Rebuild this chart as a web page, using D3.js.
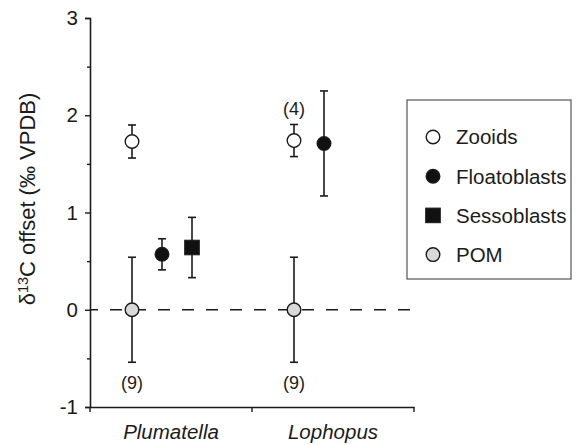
<!DOCTYPE html>
<html>
<head>
<meta charset="utf-8">
<script src="https://cdn.jsdelivr.net/npm/d3@7"></script>
<style>
  html, body { margin: 0; padding: 0; background: #fff; }
  svg { display: block; font-family: "Liberation Sans", Arial, sans-serif; }
</style>
</head>
<body>
<svg id="chart" width="576" height="445"></svg>
<script>
// Genus groups on the x axis
const categories = ["Plumatella", "Lophopus"];
// Sample types (legend order)
const seriesNames = ["Zooids", "Floatoblasts", "Sessoblasts", "POM"];

// Mean δ13C offsets and error (± SD) per genus, null where not measured
const zooidsMean = [1.73, 1.74];
const zooidsErr = [0.17, 0.165];
const floatoblastsMean = [0.57, 1.71];
const floatoblastsErr = [0.16, 0.54];
const sessoblastsMean = [0.64, null];
const sessoblastsErr = [0.31, null];
const pomMean = [0.0, 0.0];
const pomErr = [0.54, 0.54];

// Sample-size annotations
const zooidsN = [null, "(4)"];
const pomN = ["(9)", "(9)"];

// Axis ticks
const yMajorTicks = [-1, 0, 1, 2, 3];
const yMinorTicks = [-0.5, 0.5, 1.5, 2.5];

const ink = "#1b1b1b";
const fontFamily = "Liberation Sans, Arial, sans-serif";
const styles = {
  Zooids:       { shape: "circle", fill: "#ffffff", slot: 0 },
  Floatoblasts: { shape: "circle", fill: "#111111", slot: 1 },
  Sessoblasts:  { shape: "square", fill: "#111111", slot: 2 },
  POM:          { shape: "circle", fill: "#d9d9d9", slot: 0 }
};

const svg = d3.select("#chart");

const y = d3.scaleLinear().domain([-1, 3]).range([407, 18]);
const x = d3.scaleBand().domain(categories).range([90, 414]).padding(0);
const slot = d3.scalePoint().domain([0, 1, 2]).range([42, 102]);

// Build point records from the arrays
const rows = [];
const addSeries = (name, means, errs) => {
  categories.forEach((c, i) => {
    if (means[i] == null) return;
    rows.push({ series: name, cat: c, mean: means[i], err: errs[i] });
  });
};
addSeries("POM", pomMean, pomErr);
addSeries("Zooids", zooidsMean, zooidsErr);
addSeries("Floatoblasts", floatoblastsMean, floatoblastsErr);
addSeries("Sessoblasts", sessoblastsMean, sessoblastsErr);

const px = d => x(d.cat) + slot(styles[d.series].slot);

// Zero reference line
svg.append("line")
  .attr("x1", x.range()[0]).attr("x2", 410)
  .attr("y1", y(0)).attr("y2", y(0))
  .attr("stroke", ink).attr("stroke-width", 1.6)
  .attr("stroke-dasharray", "12,12").attr("stroke-dashoffset", 4);

// Y axis (major + minor ticks)
const yAxisG = svg.append("g").attr("transform", `translate(${x.range()[0]},0)`)
  .call(d3.axisLeft(y).tickValues(yMajorTicks).tickSize(5).tickPadding(7).tickFormat(d => String(d)));
svg.append("g").attr("transform", `translate(${x.range()[0]},0)`)
  .call(d3.axisLeft(y).tickValues(yMinorTicks).tickSize(3).tickFormat(""))
  .call(g => g.select(".domain").remove());

// X axis with group labels and boundary ticks
const xAxisG = svg.append("g").attr("transform", `translate(0,${y(-1)})`)
  .call(d3.axisBottom(x).tickSize(0).tickPadding(17));
const bounds = [x.range()[0], ...categories.map(c => x(c) + x.bandwidth())];
xAxisG.selectAll("line.bound").data(bounds).join("line")
  .attr("class", "bound")
  .attr("x1", d => d).attr("x2", d => d).attr("y1", 0).attr("y2", 5);

svg.selectAll(".domain").attr("stroke", ink).attr("stroke-width", 1.6);
svg.selectAll(".tick line, line.bound").attr("stroke", ink).attr("stroke-width", 1.4);
yAxisG.selectAll("text").attr("font-size", 20.5).attr("fill", ink).attr("font-family", fontFamily);
xAxisG.selectAll("text").attr("font-size", 20.5).attr("fill", ink).attr("font-style", "italic")
  .attr("font-family", fontFamily);

// Y axis title
const title = svg.append("text")
  .attr("transform", "translate(35,199) rotate(-90)")
  .attr("text-anchor", "middle")
  .attr("font-size", 22).attr("fill", ink);
title.append("tspan").text("δ");
title.append("tspan").attr("font-size", 14.5).attr("dy", -7.5).text("13");
title.append("tspan").attr("dy", 7.5).text("C offset (‰ VPDB)");

// Error bars
const cap = 4;
const eb = svg.append("g").attr("stroke", ink).attr("stroke-width", 1.6).attr("fill", "none");
rows.forEach(d => {
  const cx = px(d), top = y(d.mean + d.err), bot = y(d.mean - d.err);
  eb.append("line").attr("x1", cx).attr("x2", cx).attr("y1", top).attr("y2", bot);
  eb.append("line").attr("x1", cx - cap).attr("x2", cx + cap).attr("y1", top).attr("y2", top);
  eb.append("line").attr("x1", cx - cap).attr("x2", cx + cap).attr("y1", bot).attr("y2", bot);
});

// Markers
const drawMarker = (g, shape, fill, cx, cy) => {
  if (shape === "circle") {
    g.append("circle").attr("cx", cx).attr("cy", cy).attr("r", 6.8)
      .attr("fill", fill).attr("stroke", ink).attr("stroke-width", 1.4);
  } else {
    g.append("rect").attr("x", cx - 7.3).attr("y", cy - 7.3).attr("width", 14.6).attr("height", 14.6)
      .attr("fill", fill).attr("stroke", ink).attr("stroke-width", 1);
  }
};
const mk = svg.append("g");
rows.forEach(d => drawMarker(mk, styles[d.series].shape, styles[d.series].fill, px(d), y(d.mean)));

// Sample-size labels
const ann = svg.append("g").attr("font-size", 18).attr("fill", ink).attr("text-anchor", "middle");
categories.forEach((c, i) => {
  if (zooidsN[i]) {
    const cx = x(c) + slot(styles.Zooids.slot);
    ann.append("text").attr("x", cx).attr("y", y(zooidsMean[i] + zooidsErr[i]) - 9).text(zooidsN[i]);
  }
  if (pomN[i]) {
    const cx = x(c) + slot(styles.POM.slot);
    ann.append("text").attr("x", cx).attr("y", y(pomMean[i] - pomErr[i]) + 27).text(pomN[i]);
  }
});

// Legend
const legend = svg.append("g");
legend.append("rect").attr("x", 407).attr("y", 100).attr("width", 164).attr("height", 179)
  .attr("fill", "#fff").attr("stroke", "#555").attr("stroke-width", 1.2);
seriesNames.forEach((s, i) => {
  const ly = 137 + i * 39.2;
  drawMarker(legend, styles[s].shape, styles[s].fill, 433, ly);
  legend.append("text").attr("x", 456).attr("y", ly).attr("dy", "0.36em")
    .attr("font-size", 20.5).attr("fill", ink).text(s);
});
</script>
</body>
</html>
